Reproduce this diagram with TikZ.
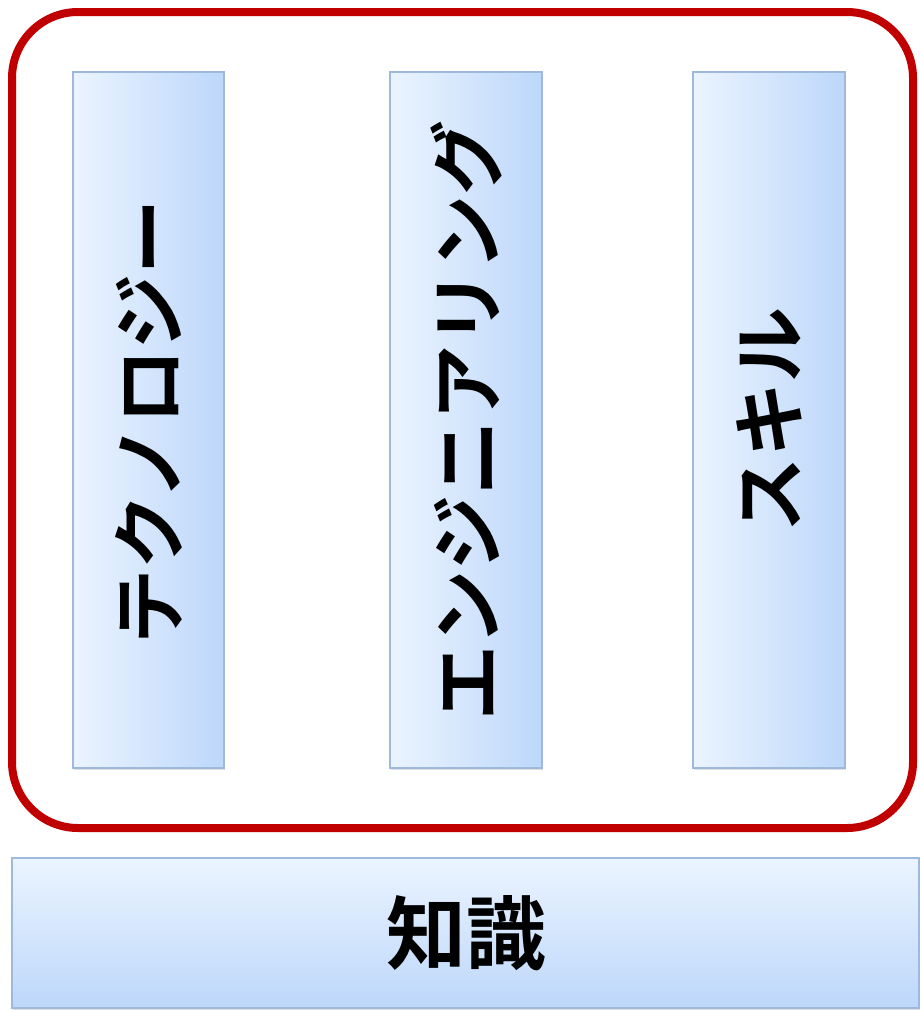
\documentclass[tikz,border=0pt]{standalone}
\usepackage{fontspec}
\newfontfamily\cjk{Noto Sans CJK JP}[BoldFont={Noto Sans CJK JP Bold}]
\usetikzlibrary{shadows}
\definecolor{frame}{HTML}{C00000}
\definecolor{pborder}{HTML}{9DB9DC}
\definecolor{plight}{HTML}{EBF4FF}
\definecolor{pdark}{HTML}{BDD7FA}
\tikzset{
  pillar/.style={draw=pborder, line width=1.5pt, left color=plight, right color=pdark,
    drop shadow={opacity=0.25, shadow xshift=1pt, shadow yshift=-2pt}},
  basebox/.style={draw=pborder, line width=1.5pt, top color=plight, bottom color=pdark,
    drop shadow={opacity=0.25, shadow xshift=1pt, shadow yshift=-2pt}},
  jtext/.style={font=\cjk\bfseries\fontsize{75}{82}\selectfont, text=black, inner sep=0pt}
}
\begin{document}
\begin{tikzpicture}[x=1pt,y=-1pt]
\useasboundingbox (0,0) rectangle (920,1010);
\draw[frame, line width=8pt, rounded corners=66pt] (12,12) rectangle (913,828);
\path[pillar] (73,72) rectangle (224,768);
\path[pillar] (390,72) rectangle (542,768);
\path[pillar] (693,72) rectangle (845,768);
\path[basebox] (12,858) rectangle (919,1008);
\node[jtext, rotate=90] (t1) at (148.5,422) {テクノロジー};
\node[jtext, rotate=90] (t2) at (466,420) {エンジニアリング};
\node[jtext, rotate=90] (t3) at (769,420) {スキル};
\node[jtext, font=\cjk\bfseries\fontsize{80}{88}\selectfont] (t4) at (466,933) {知識};
\end{tikzpicture}
\end{document}
